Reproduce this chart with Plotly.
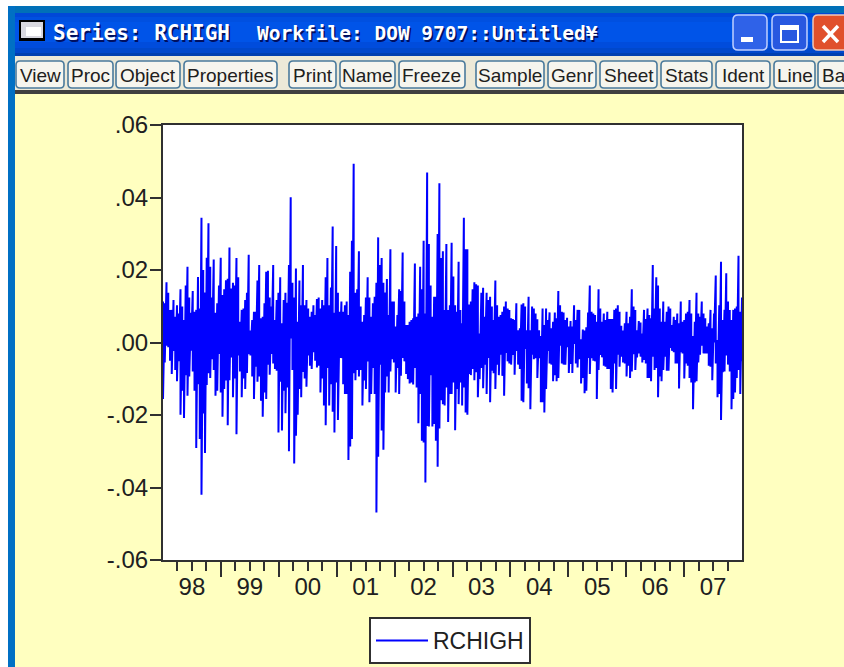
import plotly.graph_objects as go

W, H = 844, 667

# Upper and lower reach of the RCHIGH daily returns (units of 0.0001)
upper_1 = [113,108,166,137,90,90,117,71,103,80,147,99,62,157,209,124,82,142,85,90,181,94,344,200,138,234,329,209,124,229,82,108,157,234,131,147,172,176,262,149,165,157,233,180,57,90,94,117,137,242,33,62,85,85,171,214,67,71,108,195,198,124,99,214,62,117,137,180,53,117,137,110,214,401,165,124,204,57,171,103,214,103,117,94,71,85,103,76,120,124,94,117,103,180,233,103,152,320,82,266,137,85,113,85,103,113,76,195,281,493,137,147,252,99,57,76,124,180,124,71,108,126,165,290,214,233,165,138,175,76,257,113,113,44,76,147,142,248,113,48,48,57,62,67,218,71,80,209,147,281,80,469,272,157,71,126,126,299,439,233,252,90,272,90,103]
lower_1 = [-156,-55,-9,-13,-50,-87,-23,-76,-107,-52,-199,-133,-208,-90,-147,-94,-23,-80,-133,-291,-115,-266,-420,-196,-305,-117,-85,-98,-46,-76,-147,-133,-32,-138,-205,-128,-105,-228,-104,-41,-151,-99,-253,-36,-80,-151,-99,-128,-84,-32,-36,-94,-156,-67,-108,-94,-161,-205,-138,-156,-61,-89,-32,-58,-73,-78,-248,-108,-243,-133,-195,-124,-300,11,-76,-334,-257,-199,-128,-151,-81,-99,-122,-36,-64,-73,-27,-50,-69,-64,-138,-99,-174,-228,-70,-174,-115,-191,-248,-110,-214,-43,-43,-115,-142,-142,-324,-287,-266,-85,-104,-76,-94,-76,-174,-105,-128,-52,-165,-142,-70,-142,-469,-315,-61,-243,-296,-138,-94,-138,-80,-46,-55,-138,-70,-142,-92,-43,-52,-87,-101,-113,-110,-116,-70,-124,-223,-142,-271,-276,-386,-230,-232,-90,-232,-225,-271,-343,-237,-159,-170,-174,-124,-219,-142]
upper_2 = [275,182,103,85,223,90,53,344,257,257,105,113,147,166,161,157,25,137,151,71,137,117,126,99,62,171,103,71,76,85,99,113,94,90,67,65,62,108,34,39,105,108,99,34,126,34,99,94,80,64,34,18,94,48,94,62,83,39,57,83,67,142,103,85,83,62,68,44,59,44,103,62,90,90,9,36,33,42,83,157,85,80,76,57,147,94,57,80,62,85,65,65,65,90,94,103,85,46,33,53,85,53,71,147,99,90,34,59,55,25,90,65,94,76,67,214,94,180,157,94,57,113,57,85,99,94,48,71,62,80,53,113,57,62,80,85,117,80,18,57,137,80,71,113,80,67,44,53,90,39,80,185,7,103,223,62,90,191,113,90,62,90,94,99,239,85,124]
lower_2 = [-142,-110,-242,-128,-170,-110,-174,-124,-193,-199,-87,-90,-73,-104,-82,-151,-101,-70,-126,-61,-142,-43,-165,-78,-85,-128,-61,-90,-34,-92,-147,-29,-52,-58,-61,-34,-89,-23,-61,-73,-161,-165,-18,-113,-126,-184,-34,-46,-43,-98,-43,-165,-165,-193,-128,-23,-58,-61,-107,-90,-107,-98,-9,-58,-61,-61,-13,-84,-59,-84,-4,-58,-69,-46,-113,-98,-140,-133,-43,-87,-43,-50,-52,-156,-76,-34,-41,-64,-67,-73,-73,-128,-138,-58,-128,-34,-67,-39,-55,-58,-94,-64,-98,-80,-32,-76,-41,-30,-39,-55,-48,-58,-98,-98,-107,-39,-76,-70,-151,-94,-107,-76,-39,-78,-78,-15,-23,-27,-58,-58,-127,-27,-30,-99,-58,-64,-98,-110,-184,-110,-107,-55,-34,-9,-30,-30,-30,-64,-67,-104,0,-58,-151,-142,-214,-82,-80,-36,-61,-80,-184,-156,-138,-98,-76,-142,-52]

year_ticks = [1999,2000,2001,2002,2003,2004,2005,2006,2007]
year_labels = ["98","99","00","01","02","03","04","05","06","07"]
first_year = 1998
y_ticks = [0.06,0.04,0.02,0.0,-0.02,-0.04,-0.06]
y_labels = [".06",".04",".02",".00","-.02","-.04","-.06"]
title_left = "Series: RCHIGH"
title_right = "Workfile: DOW 9707::Untitled¥"
buttons = [("View",16,64),("Proc",68,113),("Object",116,180),("Properties",184,277),
           ("Print",289,336),("Name",340,395),("Freeze",399,465),("Sample",476,544),
           ("Genr",548,596),("Sheet",600,657),("Stats",661,712),("Ident",716,770),
           ("Line",774,815),("Ba",818,870)]

YELLOW = "#FFFFC0"
BLUE = "#0000FF"

upper = upper_1 + upper_2
lower = lower_1 + lower_2
n = min(len(upper), len(lower))
xs, ys = [], []
for i in range(n):
    t = first_year + 10 * i / (n - 1)
    xs += [t, t]
    ys += [upper[i] / 10000, lower[i] / 10000]

fig = go.Figure(go.Scatter(x=xs, y=ys, mode="lines", name="RCHIGH", showlegend=True,
                           line=dict(color=BLUE, width=2)))

def fx(p): return p / W
def fy(p): return 1 - p / H

shapes, annos = [], []

def rect(x0, y0, x1, y1, fill, line=None, lw=0):
    shapes.append(dict(type="rect", xref="paper", yref="paper", x0=fx(x0), x1=fx(x1),
                       y0=fy(y1), y1=fy(y0), fillcolor=fill,
                       line=dict(color=line or fill, width=lw)))

def rrect(x0, y0, x1, y1, r, fill, line, lw):
    def P(a, b): return f"{fx(a):.5f},{fy(b):.5f}"
    path = (f"M{P(x0+r,y0)} L{P(x1-r,y0)} Q{P(x1,y0)} {P(x1,y0+r)} L{P(x1,y1-r)} Q{P(x1,y1)} {P(x1-r,y1)} "
            f"L{P(x0+r,y1)} Q{P(x0,y1)} {P(x0,y1-r)} L{P(x0,y0+r)} Q{P(x0,y0)} {P(x0+r,y0)} Z")
    shapes.append(dict(type="path", xref="paper", yref="paper", path=path, fillcolor=fill,
                       line=dict(color=line, width=lw)))

def text(x, y, s, size, color, family, anchor="left", **extra):
    f = dict(size=size, color=color, family=family, **extra)
    annos.append(dict(xref="paper", yref="paper", x=fx(x), y=fy(y), text=s, showarrow=False,
                      xanchor=anchor, yanchor="middle", font=f, borderpad=0))

# window frame
rect(0, 0, W, 6, "#FFFFFF")
rect(0, 0, 8, H, "#FFFFFF")
rect(8, 6, W, 13, "#0070B8")
rect(8, 6, 15, H, "#0070C4")
# title bar
for y0, y1, c in [(13,17,"#0048D8"),(17,22,"#0050E0"),(22,42,"#0054E8"),(42,48,"#004CDC"),(48,53,"#0048CC"),(53,56,"#0040B0")]:
    rect(15, y0, W, y1, c)
# icon
rect(19, 20, 45, 41, "#000000")
rect(21, 22, 43, 38, "#D8D8E0")
rect(26, 27, 41, 36, "#FFFFFF")
# window buttons
rrect(733, 15, 767, 50, 5, "#2F62E8", "#C0D0FF", 1.5)
rect(741, 37, 753, 42, "#FFFFFF")
rrect(772, 15, 807, 50, 5, "#2858E0", "#C0D0FF", 1.5)
rect(781, 26, 798, 42, "rgba(0,0,0,0)", "#FFFFFF", 2)
rect(781, 26, 798, 30, "#FFFFFF")
rrect(813, 15, 860, 50, 5, "#E0502C", "#F0C8B8", 1.5)
for a, b, c, d in [(823, 26, 838, 42), (823, 42, 838, 26)]:
    shapes.append(dict(type="line", xref="paper", yref="paper", x0=fx(a), x1=fx(c), y0=fy(b), y1=fy(d),
                       line=dict(color="#FFFFFF", width=3.5)))
# toolbar
rect(15, 56, W, 91, "#ECE9D8")
rect(15, 90, W, 94, "#404040")
for label, x0, x1 in buttons:
    rrect(x0, 61, x1, 88, 4, "#F6F5EE", "#4A7A9C", 1.6)
    text((x0 + x1) / 2 if label != "Ba" else 821, 75, label, 19, "#202020", "Liberation Sans",
         "center" if label != "Ba" else "left")
# title, with its dark shadow
shadow = "1.5px 1.5px 0.5px #001060"
text(52, 33, title_left, 21, "#FFFFFF", "DejaVu Sans Mono, monospace", weight="bold", shadow=shadow)
text(256, 33, title_right, 19.5, "#FFFFFF", "DejaVu Sans Mono, monospace", weight="bold", shadow=shadow)

quarters, quarter_text = [], []
for k, lab in enumerate(year_labels):
    yr = first_year + k
    quarters += [yr + 0.25, yr + 0.5, yr + 0.75]
    quarter_text += ["", lab, ""]

fig.update_layout(
    width=W, height=H, margin=dict(l=0, r=0, t=0, b=0, pad=0, autoexpand=False),
    paper_bgcolor=YELLOW, plot_bgcolor="#FFFFFF",
    font=dict(family="Liberation Sans", color="#202020"),
    shapes=shapes, annotations=annos,
    xaxis=dict(domain=[fx(163), fx(742)], range=[first_year, first_year + 10], tickmode="array",
               tickvals=quarters, ticktext=quarter_text, ticks="outside", ticklen=9, tickwidth=2,
               tickcolor="#303030", tickangle=0, tickfont=dict(size=24, color="#202020"),
               ticklabelstandoff=-5, showline=True, linecolor="#303030", linewidth=2, mirror=True,
               showgrid=False, zeroline=False,
               minor=dict(tickmode="array", tickvals=year_ticks, ticks="outside", ticklen=15,
                          tickwidth=2, tickcolor="#303030", showgrid=False)),
    yaxis=dict(domain=[fy(560), fy(125)], range=[-0.06, 0.06], tickmode="array", tickvals=y_ticks,
               ticktext=y_labels, ticks="outside", ticklen=11, tickwidth=2, tickcolor="#303030",
               tickfont=dict(size=24, color="#202020"), ticklabelstandoff=-3, showline=True,
               linecolor="#303030", linewidth=2, mirror=True, showgrid=False, zeroline=False),
    showlegend=True,
    legend=dict(x=fx(369), xanchor="left", y=fy(617), yanchor="top", bgcolor="#FFFFFF",
                bordercolor="#303030", borderwidth=2, font=dict(size=23, color="#202020"),
                itemwidth=52, itemclick=False),
)

fig.write_html("out.html", config=dict(displayModeBar=False),
               post_script="document.body.style.margin='0';document.body.style.overflow='hidden';")
